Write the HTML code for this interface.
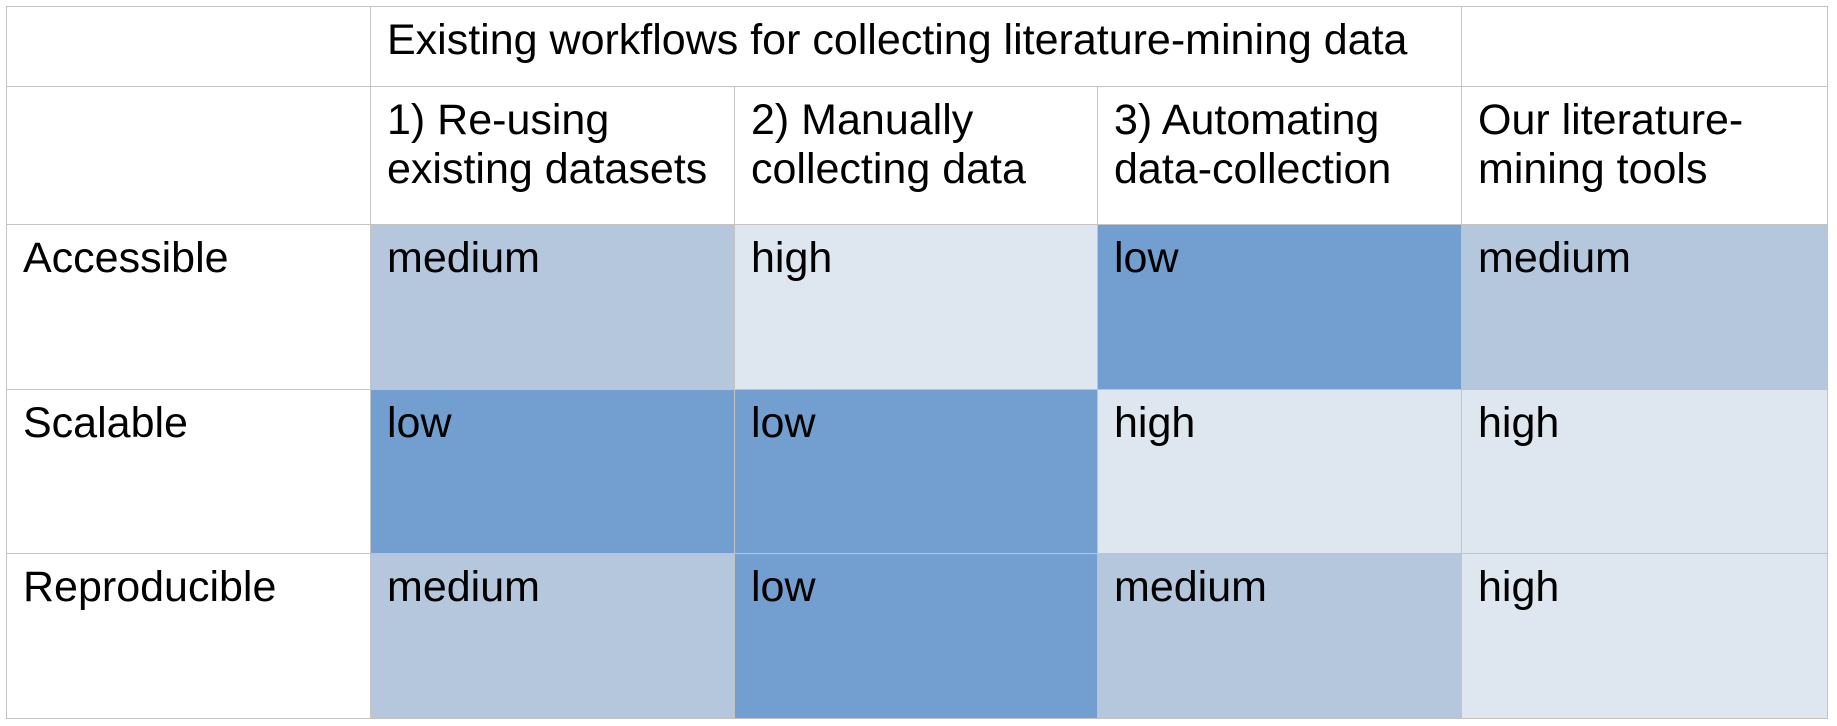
<!DOCTYPE html>
<html><head><meta charset="utf-8"><style>
body{margin:0;width:1837px;height:726px;background:#fff;overflow:hidden;font-family:"Liberation Sans",sans-serif}
.c{position:absolute;box-sizing:border-box;border:1px solid #c3c3c3;padding:9px 0 0 16px;font-size:43px;line-height:49px;color:#000;white-space:nowrap}
</style></head><body>
<div id="t"></div>
<script>
const colX=[6,370,734,1097,1461,1827];
const rowY=[6,86,224,389,553,718];
const headers=["1) Re-using<br>existing datasets","2) Manually<br>collecting data","3) Automating<br>data-collection","Our literature-<br>mining tools"];
const rowLabels=["Accessible","Scalable","Reproducible"];
const ratings=[["medium","high","low","medium"],["low","low","high","high"],["medium","low","medium","high"]];
const colors={low:"#729fcf",medium:"#b4c7dc",high:"#dee6ef"};
const t=document.getElementById('t');
function cell(x0,x1,y0,y1,html,bg,name){
  const d=document.createElement('div');
  d.className='c';
  d.style.left=colX[x0]+'px';d.style.width=(colX[x1]-colX[x0]+1)+'px';
  d.style.top=rowY[y0]+'px';d.style.height=(rowY[y1]-rowY[y0]+1)+'px';
  d.style.background=bg||'#fff';
  d.innerHTML=html;
  
  
  t.appendChild(d);
}
cell(0,1,0,1,"",null,"corner-cell");
cell(1,4,0,1,"Existing workflows for collecting literature-mining data",null,"workflows-header");
cell(4,5,0,1,"",null,"blank-header");
cell(0,1,1,2,"",null,"corner-cell-2");
headers.forEach((h,i)=>cell(i+1,i+2,1,2,h,null,"column-header"));
rowLabels.forEach((r,j)=>{
  cell(0,1,j+2,j+3,r,null,"row-label");
  ratings[j].forEach((v,i)=>cell(i+1,i+2,j+2,j+3,v,colors[v],"rating-cell"));
});
</script>
</body></html>
